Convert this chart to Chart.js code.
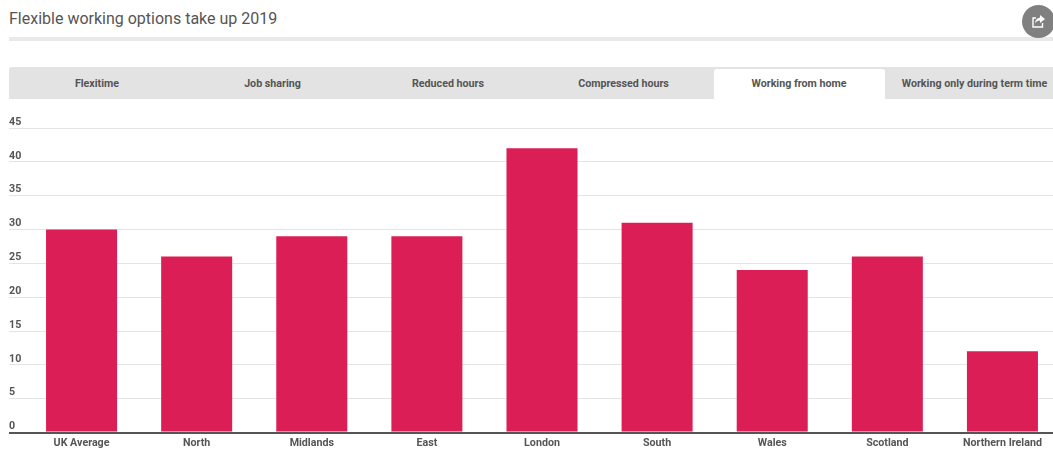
<!DOCTYPE html>
<html>
<head>
<meta charset="utf-8">
<title>Flexible working options take up 2019</title>
<script src="https://cdn.jsdelivr.net/npm/chart.js@4"></script>
<style>
  html, body { margin: 0; padding: 0; background: #fff; overflow: hidden; }
  body { width: 1053px; height: 451px; position: relative; font-family: Roboto, sans-serif; color: #555; }
  h1 { position: absolute; left: 9px; top: 8px; margin: 0; font-size: 16px; line-height: 22px; font-weight: 400; color: #555; }
  .rule { position: absolute; left: 9px; right: 0; top: 37px; height: 4px; background: #e9e9e9; }
  .share { position: absolute; left: 1022px; top: 5px; width: 33px; height: 33px; border-radius: 50%; background: #808080; }
  .share svg { position: absolute; left: 9px; top: 9px; }
  .tabs { position: absolute; left: 9px; right: 0; top: 67px; height: 32px; background: #e3e3e3; border-radius: 3px 0 0 0; }
  .tab { position: absolute; top: 2px; width: 171px; height: 30px; line-height: 29px; text-align: center; font-size: 10.7px; font-weight: 700; white-space: nowrap; color: #555; }
  .tab.on { background: #fff; border-radius: 3px 3px 0 0; }
  .plot { position: absolute; left: 0; top: 100px; width: 1053px; height: 351px; overflow: hidden; }
</style>
</head>
<body>
<h1>Flexible working options take up 2019</h1>
<div class="rule"></div>
<div class="share">
  <svg width="15" height="15" viewBox="0 0 15 15">
    <path d="M9 1 L14 5 L9 9 V6.6 C6.5 6.6 5 7.6 4 9.6 C4.2 6.2 6 3.8 9 3.4 Z" fill="#fff"/>
    <path d="M11.5 9 V13 H2 V4 H5" fill="none" stroke="#fff" stroke-width="1.4"/>
  </svg>
</div>
<div class="tabs" id="tabs"></div>
<div class="plot"><canvas id="canvas"></canvas></div>

<script>
var tabNames = ["Flexitime", "Job sharing", "Reduced hours", "Compressed hours", "Working from home", "Working only during term time"];
var activeTab = 4;

var categories = ["UK Average", "North", "Midlands", "East", "London", "South", "Wales", "Scotland", "Northern Ireland"];
var workingFromHome = [30, 26, 29, 29, 42, 31, 24, 26, 12];

// tab strip
var tabs = document.getElementById('tabs');
tabNames.forEach(function (name, i) {
    var el = document.createElement('div');
    el.className = i === activeTab ? 'tab on' : 'tab';
    el.style.left = (2.5 + i * 175.5) + 'px';
    el.textContent = name;
    tabs.appendChild(el);
});

var axisColor = '#555555';
var gridColor = '#e4e4e4';
var tickFont = { family: 'Roboto', size: 10.7, weight: '700' };

// canvas runs past the right edge, the wrapper clips it
var canvas = document.getElementById('canvas');
canvas.style.width = '1060px';
canvas.style.height = '351px';
canvas.width = 1060;
canvas.height = 351;

new Chart(canvas, {
    type: 'bar',
    data: {
        labels: categories,
        datasets: [{
            label: 'Working from home',
            data: workingFromHome,
            backgroundColor: '#db1f56',
            categoryPercentage: 1,
            barPercentage: 0.617
        }]
    },
    options: {
        responsive: false,
        animation: false,
        layout: { padding: { left: 9, top: 28, right: 0, bottom: 0 } },
        plugins: { legend: { display: false }, tooltip: { enabled: false } },
        scales: {
            x: {
                grid: { display: false, drawTicks: false },
                border: { display: true, color: axisColor, width: 2, z: 1 },
                ticks: { color: axisColor, font: tickFont, padding: 4, maxRotation: 0, autoSkip: false },
                afterFit: function (scale) { scale.height = 18.5; }
            },
            y: {
                min: 0,
                max: 45,
                border: { display: false },
                grid: {
                    tickLength: 15,
                    color: function (ctx) { return ctx.tick && ctx.tick.value === 0 ? axisColor : gridColor; },
                    lineWidth: function (ctx) { return ctx.tick && ctx.tick.value === 0 ? 2 : 1; }
                },
                ticks: {
                    stepSize: 5,
                    mirror: true,
                    padding: -15,
                    labelOffset: -6,
                    color: axisColor,
                    font: tickFont
                },
                afterFit: function (scale) { scale.width = 15; }
            }
        }
    }
});
</script>
</body>
</html>
